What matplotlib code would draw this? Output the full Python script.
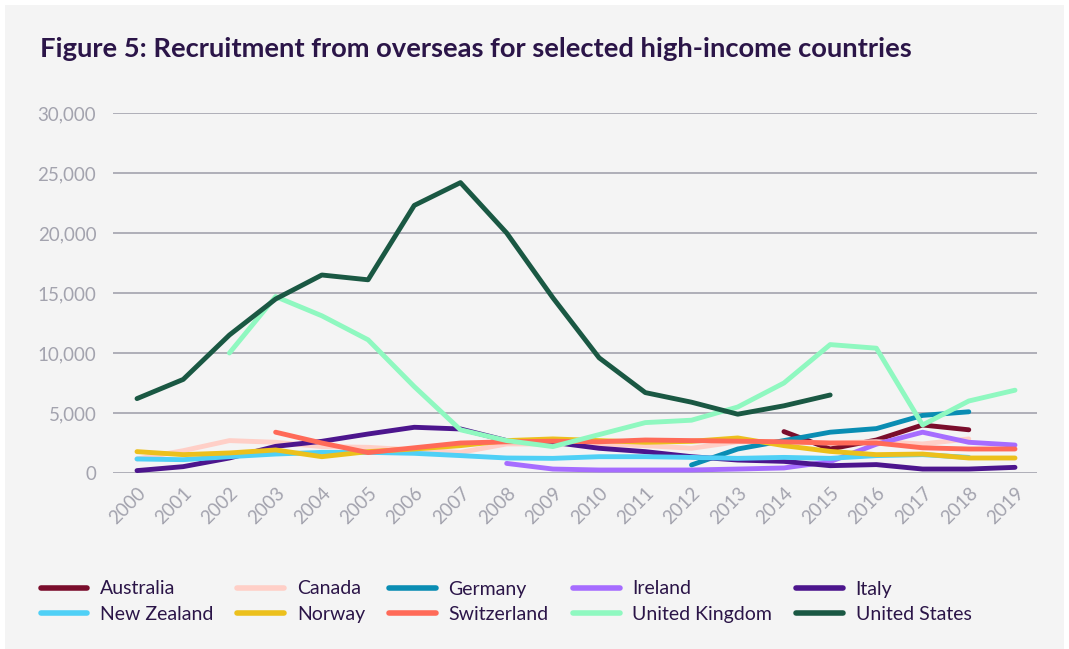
import matplotlib.pyplot as plt
from matplotlib.patches import Rectangle
import numpy as np

years = list(range(2000, 2020))

# values (None = no data)
australia = [None] * 14 + [3450, 2000, 2750, 4000, 3600, None]
canada = [1170, 1860, 2700, 2560, 2200, 2140, 1920, 1720, 2420, 2420,
          2420, 2280, 2060, 2610, 2610, 2500, 2610, 2420, 2840, None]
germany = [None] * 12 + [670, 2000, 2700, 3400, 3700, 4800, 5100, None]
ireland = [None] * 8 + [800, 330, 250, 250, 250, 330, 420, 950, 2400, 3400, 2560, 2330]
italy = [200, 530, 1250, 2220, 2640, 3250, 3810, 3670, 2700, 2560,
         2060, 1780, 1360, 1080, 970, 610, 700, 330, 330, 470]
new_zealand = [1170, 1110, 1360, 1580, 1720, 1720, 1640, 1450, 1250, 1220,
               1360, 1360, 1300, 1220, 1300, 1220, 1450, 1530, 1300, None]
norway = [1780, 1530, 1670, 1920, 1360, 1780, 2000, 2280, 2700, 2840,
          2700, 2560, 2640, 2920, 2280, 1800, 1530, 1580, 1250, 1250]
switzerland = [None] * 3 + [3400, 2500, 1700, 2100, 2500, 2600, 2650,
                            2600, 2750, 2700, 2650, 2600, 2500, 2500, 2100, 2000, 2000]
united_kingdom = [None] * 2 + [10000, 14700, 13100, 11100, 7200, 3600, 2700, 2200,
                               3200, 4200, 4400, 5500, 7500, 10700, 10400, 4000, 6000, 6900]
united_states = [6200, 7800, 11500, 14500, 16500, 16100, 22300, 24200, 20000, 14600,
                 9600, 6700, 5900, 4900, 5600, 6500, None, None, None, None]

series = [
    ("Australia", australia, "#7a0d2c"),
    ("Canada", canada, "#ffcfc7"),
    ("Germany", germany, "#0a8db3"),
    ("Ireland", ireland, "#a66cff"),
    ("Italy", italy, "#4c158d"),
    ("New Zealand", new_zealand, "#4fd0f6"),
    ("Norway", norway, "#ecc01c"),
    ("Switzerland", switzerland, "#ff6a58"),
    ("United Kingdom", united_kingdom, "#8ff8c0"),
    ("United States", united_states, "#1a5843"),
]

plt.rcParams['font.family'] = ['Lato', 'DejaVu Sans']
text_dark = "#2b1548"
tick_grey = "#a3a3ae"

fig = plt.figure(figsize=(10.69, 6.49), dpi=100, facecolor="white")
fig.patches.append(Rectangle((5 / 1069, 0), 1059 / 1069, 644 / 649,
                             transform=fig.transFigure, facecolor="#f4f4f4",
                             edgecolor="none", zorder=-10))

ax = fig.add_axes([113 / 1069, (649 - 473) / 649, 924 / 1069, 360 / 649])
ax.set_facecolor("none")

for name, vals, col in series:
    y = np.array([np.nan if v is None else v for v in vals], dtype=float)
    ax.plot(years, y, color=col, lw=3.5, solid_capstyle="round",
            solid_joinstyle="round", label=name, clip_on=False)

ax.set_xlim(2000 - 24 / 46.2, 2019 + 22 / 46.2)
ax.set_ylim(0, 30000)
ax.set_yticks(range(0, 30001, 5000))
ax.set_yticklabels([f"{v:,}" for v in range(0, 30001, 5000)])
ax.set_xticks(years)
ax.set_xticklabels([str(y) for y in years], rotation=45, ha="right",
                   rotation_mode="anchor")
ax.yaxis.grid(True, color="#a3a3ae", lw=1.2)
ax.set_axisbelow(True)
for s in ax.spines.values():
    s.set_visible(False)
ax.tick_params(axis="both", length=0, labelsize=13.5, colors=tick_grey)
ax.tick_params(axis="y", pad=12)
ax.tick_params(axis="x", pad=8)

fig.text(40 / 1069, 1 - 49 / 649, "Figure 5: Recruitment from overseas for selected high-income countries",
         fontsize=19.7, fontweight="bold", color=text_dark, va="center", ha="left")

# legend reads row by row in the original, matplotlib fills column by column
handles, labels = ax.get_legend_handles_labels()
order = [0, 5, 1, 6, 2, 7, 3, 8, 4, 9]
leg = fig.legend([handles[i] for i in order], [labels[i] for i in order],
                 ncol=5, loc="upper left",
                 bbox_to_anchor=(23 / 1069, 1 - 563 / 649), frameon=False,
                 fontsize=14, handlelength=2.4, handletextpad=0.65,
                 columnspacing=1.25, labelspacing=0.45, labelcolor=text_dark)
for line in leg.get_lines():
    line.set_linewidth(4)

fig.savefig("out.png", dpi=100, facecolor="white")
